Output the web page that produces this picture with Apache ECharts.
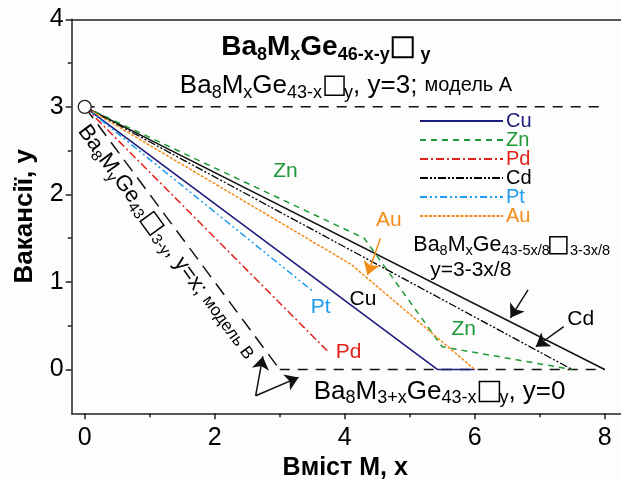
<!DOCTYPE html>
<html>
<head>
<meta charset="utf-8">
<script src="https://cdn.jsdelivr.net/npm/echarts@6/dist/echarts.min.js"></script>
<style>
html,body{margin:0;padding:0;background:#fdfdfd;}
#chart{width:621px;height:480px;}
</style>
</head>
<body>
<div id="chart"></div>
<script>
// ---- data ----
const xTickLabels = [0, 2, 4, 6, 8];
const xMinorTicks = [1, 3, 5, 7];
const yTickLabels = [0, 1, 2, 3, 4];
const yMinorTicks = [0.5, 1.5, 2.5, 3.5];

const cu = [[0, 3], [5.43, 0], [6.0, 0]];
const zn = [[0, 3], [4.3, 1.5], [5.5, 0.26], [7.5, 0]];
const pd = [[0, 3], [3.75, 0.2]];
const cd = [[0, 3], [7.5, 0]];
const pt = [[0, 3], [3.5, 0.9]];
const au = [[0, 3], [4.1, 1.2], [6.0, 0]];
const modelA = [[0, 3], [8, 3]];
const modelB = [[0, 3], [3, 0]];
const modelB0 = [[3, 0], [8, 0]];
const modelC = [[0, 3], [8, 0]];
const startPoint = [[0, 3]];

// annotation arrows (data coordinates)
const arrowAu = [[4.55, 1.50], [4.35, 1.08]];
const arrowC = [[6.82, 0.91], [6.55, 0.59]];
const arrowCd = [[7.37, 0.49], [6.94, 0.26]];
const arrowB1 = [[2.63, -0.30], [2.74, 0.15]];
const arrowB2 = [[2.63, -0.30], [3.29, -0.09]];

const FONT = "'Liberation Sans', Arial, sans-serif";
const C = {cu:'#1c1c7c', zn:'#1f9a37', pd:'#e2231a', cd:'#000000', pt:'#1e9cf0', au:'#f28c16'};

function rich(size, sub, color, bold, boxSize, boxW, tSize) {
  const fw = bold ? 'bold' : 'normal';
  const base = {fontFamily: FONT, fontWeight: fw, color: color, textBorderWidth: 0};
  return {
    m: Object.assign({fontSize: size}, base),
    s: Object.assign({fontSize: sub, padding: [Math.round(size * 0.55), 0, 0, 0]}, base),
    t: Object.assign({fontSize: tSize || Math.round(size * 0.75)}, base, {fontWeight: 'normal'}),
    b: {width: boxSize, height: boxSize, borderColor: color, borderWidth: boxW},
    g: {width: 3, height: 2, fontSize: 2}
  };
}

const chart = echarts.init(document.getElementById('chart'));

function lineSeries(name, data, color, type, width) {
  return {
    name: name, type: 'line', data: data, symbol: 'none', silent: true,
    lineStyle: {color: color, width: width || 1.5, type: type},
    itemStyle: {color: color}, z: 3
  };
}

function label(x, y, text, r, extra) {
  return {
    value: [x, y],
    label: Object.assign({show: true, position: 'inside', formatter: text, rich: r,
      color: '#000', textBorderWidth: 0, textShadowBlur: 0, opacity: 1}, extra || {})
  };
}

const annotations = [
  label(3.71, 3.68, '{m|Ba}{s|8}{m|M}{s|x}{m|Ge}{s|46-x-y}{g| }{b| }{m| }{s|y}', rich(28, 18, '#000', true, 20, 2)),
  label(4.02, 3.24, '{m|Ba}{s|8}{m|M}{s|x}{m|Ge}{s|43-x}{g| }{b| }{s|y}{m|, y=3; }{t|модель А}', rich(26, 18, '#000', false, 19, 1.5, 20)),
  label(3.09, 2.27, '{m|Zn}', rich(21, 15, C.zn, false, 14, 1)),
  label(4.68, 1.71, '{m|Au}', rich(21, 15, C.au, false, 14, 1)),
  label(4.28, 0.80, '{m|Cu}', rich(21, 15, '#000', false, 14, 1)),
  label(3.63, 0.71, '{m|Pt}', rich(21, 15, C.pt, false, 14, 1)),
  label(4.06, 0.20, '{m|Pd}', rich(21, 15, C.pd, false, 14, 1)),
  label(5.83, 0.46, '{m|Zn}', rich(21, 15, C.zn, false, 14, 1)),
  label(7.63, 0.57, '{m|Cd}', rich(21, 15, '#000', false, 14, 1)),
  label(6.57, 1.42, '{m|Ba}{s|8}{m|M}{s|x}{m|Ge}{s|43-5x/8}{b| }{g| }{s|3-3x/8}', rich(21.5, 14.5, '#000', false, 17, 1.5)),
  label(5.94, 1.14, '{m|y=3-3x/8}', rich(21, 14, '#000', false, 16, 1.5)),
  label(5.46, -0.25, '{m|Ba}{s|8}{m|M}{s|3+x}{m|Ge}{s|43-x}{g| }{b| }{s|y}{m|, y=0}', rich(26, 18, '#000', false, 20, 1.5)),
  label(1.25, 1.45, '{m|Ba}{s|8}{m|M}{s|y}{m|Ge}{s|43}{g| }{b| }{g| }{s|3-y}{m|, y=x; }{t|модель В}', rich(22, 15, '#000', false, 17, 1.5, 17), {rotate: -54})
];

function arrow(coords, color) {
  return {coords: coords, lineStyle: {color: color}};
}

const option = {
  backgroundColor: '#fdfdfd',
  animation: false,
  grid: {left: 71.7, top: 19.3, width: 559, height: 394, containLabel: false, outerBoundsMode: 'none'},
  legend: {
    orient: 'vertical', left: 419, top: 111, itemWidth: 83, itemHeight: 12, itemGap: -1,
    padding: 0, selectedMode: false,
    itemStyle: {opacity: 0},
    textStyle: {fontSize: 20, fontFamily: FONT, padding: [0, 0, 0, -2]},
    data: [
      {name: 'Cu', textStyle: {color: C.cu}},
      {name: 'Zn', textStyle: {color: C.zn}},
      {name: 'Pd', textStyle: {color: C.pd}},
      {name: 'Cd', textStyle: {color: C.cd}},
      {name: 'Pt', textStyle: {color: C.pt}},
      {name: 'Au', textStyle: {color: C.au}}
    ]
  },
  xAxis: [{
    type: 'value', min: -0.2, max: 8.4, position: 'bottom',
    axisLine: {show: true, onZero: false, lineStyle: {color: '#222', width: 1.5}},
    axisTick: {show: true, length: 6, inside: false, customValues: xTickLabels, lineStyle: {color: '#222', width: 1.5}},
    axisLabel: {show: true, customValues: xTickLabels, fontSize: 25, fontFamily: FONT, color: '#000', margin: 12},
    splitLine: {show: false},
    name: 'Вміст М, х', nameLocation: 'middle', nameGap: 41,
    nameTextStyle: {fontSize: 25, fontWeight: 'bold', fontFamily: FONT, color: '#000', padding: [0, 12, 0, 0]}
  }, {
    type: 'value', min: -0.2, max: 8.4, position: 'bottom', gridIndex: 0,
    axisLine: {show: false, onZero: false},
    axisTick: {show: true, length: 4, customValues: xMinorTicks, lineStyle: {color: '#222', width: 1.5}},
    axisLabel: {show: false}, splitLine: {show: false}
  }, {
    type: 'value', min: -0.2, max: 8.4, position: 'top',
    axisLine: {show: true, onZero: false, lineStyle: {color: '#222', width: 1.5}},
    axisTick: {show: false}, axisLabel: {show: false}, splitLine: {show: false}
  }],
  yAxis: [{
    type: 'value', min: -0.5, max: 4, position: 'left',
    axisLine: {show: true, onZero: false, lineStyle: {color: '#222', width: 1.5}},
    axisTick: {show: true, length: 6, customValues: yTickLabels, lineStyle: {color: '#222', width: 1.5}},
    axisLabel: {show: true, customValues: yTickLabels, fontSize: 25, fontFamily: FONT, color: '#000', margin: 8},
    splitLine: {show: false},
    name: 'Вакансії, у', nameLocation: 'middle', nameGap: 34,
    nameTextStyle: {fontSize: 26, fontWeight: 'bold', fontFamily: FONT, color: '#000'}
  }, {
    type: 'value', min: -0.5, max: 4, position: 'left',
    axisLine: {show: false, onZero: false},
    axisTick: {show: true, length: 4, customValues: yMinorTicks, lineStyle: {color: '#222', width: 1.5}},
    axisLabel: {show: false}, splitLine: {show: false}
  }],
  series: [
    lineSeries('modelA', modelA, '#111', [10, 8], 1.5),
    lineSeries('modelB', modelB, '#111', [14, 8], 1.5),
    lineSeries('modelB0', modelB0, '#111', [10, 8], 1.5),
    lineSeries('modelC', modelC, '#111', 'solid', 1.5),
    lineSeries('Cu', cu, C.cu, 'solid', 1.6),
    lineSeries('Zn', zn, C.zn, [6, 5], 1.5),
    lineSeries('Pd', pd, C.pd, [8, 3, 2, 3], 1.5),
    lineSeries('Cd', cd, C.cd, [8, 2, 2, 2, 2, 2], 1.3),
    lineSeries('Pt', pt, C.pt, [7, 3, 2, 3, 2, 3], 1.5),
    lineSeries('Au', au, C.au, [3, 1.5], 1.5),
    {
      type: 'scatter', data: startPoint, symbol: 'circle', symbolSize: 13, silent: true, z: 5,
      itemStyle: {color: '#fff', borderColor: '#222', borderWidth: 1.3, opacity: 1}
    },
    {
      type: 'scatter', data: annotations, symbolSize: 0, silent: true, z: 6,
      itemStyle: {color: 'rgba(0,0,0,0)', opacity: 1}
    },
    {
      type: 'lines', coordinateSystem: 'cartesian2d', silent: true, z: 6,
      symbol: ['none', 'arrow'], symbolSize: 13,
      lineStyle: {width: 1.5, opacity: 1, curveness: 0},
      data: [arrow(arrowAu, C.au), arrow(arrowC, '#111'), arrow(arrowCd, '#111'), arrow(arrowB1, '#111'), arrow(arrowB2, '#111')]
    }
  ]
};
chart.setOption(option);
</script>
</body>
</html>
